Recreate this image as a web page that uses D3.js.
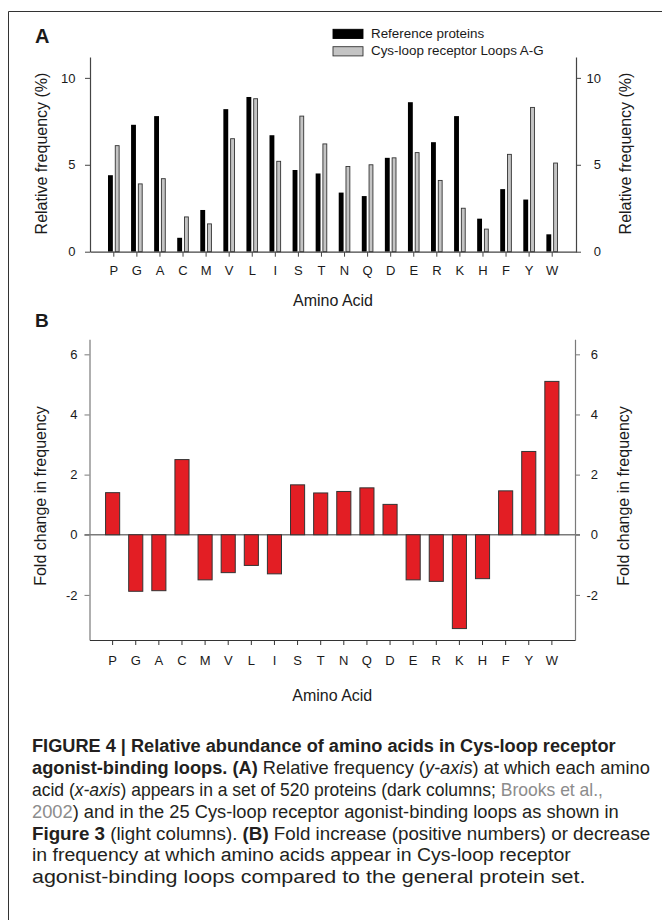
<!DOCTYPE html>
<html>
<head>
<meta charset="utf-8">
<script src="https://cdn.jsdelivr.net/npm/d3@7"></script>
<style>
  html, body { margin: 0; padding: 0; background: #fff; }
  svg { display: block; }
  text { font-family: "Liberation Sans", Arial, sans-serif; fill: #1a1a1a; }
</style>
</head>
<body>
<svg id="chart" width="662" height="920"></svg>
<script>
// ---------- data ----------
const aminoAcids = ['P','G','A','C','M','V','L','I','S','T','N','Q','D','E','R','K','H','F','Y','W'];
const referenceFreq = [4.4,7.3,7.8,0.8,2.4,8.2,8.9,6.7,4.7,4.5,3.4,3.2,5.4,8.6,6.3,7.8,1.9,3.6,3.0,1.0];
const loopFreq      = [6.1,3.9,4.2,2.0,1.6,6.5,8.8,5.2,7.8,6.2,4.9,5.0,5.4,5.7,4.1,2.5,1.3,5.6,8.3,5.1];
const foldChange    = [1.40,-1.88,-1.86,2.50,-1.50,-1.26,-1.02,-1.30,1.66,1.39,1.44,1.56,1.01,-1.50,-1.55,-3.12,-1.46,1.46,2.77,5.10];
const freqTicks = [0,5,10];
const foldTicks = [-2,0,2,4,6];
const seriesKeys = ['Reference proteins','Cys-loop receptor Loops A-G'];

const svg = d3.select('#chart');
const axisColor = '#444';
const plainFmt = d => String(d);

// frame
svg.append('line').attr('x1',8.5).attr('y1',11.5).attr('x2',662).attr('y2',11.5).attr('stroke','#333').attr('stroke-width',1);
svg.append('line').attr('x1',8.5).attr('y1',11.5).attr('x2',8.5).attr('y2',920).attr('stroke','#333').attr('stroke-width',1);

function styleAxis(g, color) {
  g.selectAll('path.domain').attr('stroke', color).attr('stroke-width', 1.2);
  g.selectAll('.tick line').attr('stroke', color).attr('stroke-width', 1);
  g.selectAll('.tick text').attr('fill', '#1a1a1a').style('font-size', '13px')
    .style('font-family', '"Liberation Sans", Arial, sans-serif');
}

// ---------- Panel A ----------
const aLeft = 90, aRight = 576, aTop = 57, aBottom = 251.7;
const xA = d3.scaleBand().domain(aminoAcids).range([aLeft, aRight]).paddingInner(0.496).paddingOuter(0.78);
const xA1 = d3.scaleBand().domain(seriesKeys).range([0, xA.bandwidth()]).paddingInner(0.28);
const yA = d3.scaleLinear().domain([0, 11.2]).range([aBottom, aTop]);

const gA = svg.append('g');
const rows = aminoAcids.map((a,i) => ({a, vals:[referenceFreq[i], loopFreq[i]]}));
const grp = gA.selectAll('g.grp').data(rows).join('g').attr('transform', d => `translate(${xA(d.a)},0)`);
grp.selectAll('rect').data(d => d.vals.map((v,k) => ({k: seriesKeys[k], v})))
  .join('rect')
  .attr('x', d => xA1(d.k) + (d.k === seriesKeys[0] ? 0 : 0.5))
  .attr('width', d => xA1.bandwidth() - (d.k === seriesKeys[0] ? 0 : 1))
  .attr('y', d => yA(d.v))
  .attr('height', d => aBottom - yA(d.v))
  .attr('fill', d => d.k === seriesKeys[0] ? '#000' : '#c4c4c4')
  .attr('stroke', d => d.k === seriesKeys[0] ? 'none' : '#333')
  .attr('stroke-width', 0.9);

const axLA = gA.append('g').attr('transform', `translate(${aLeft},0)`)
  .call(d3.axisLeft(yA).tickValues(freqTicks).tickFormat(plainFmt).tickSize(5).tickSizeOuter(0).tickPadding(9.5));
styleAxis(axLA, axisColor);
const axRA = gA.append('g').attr('transform', `translate(${aRight},0)`)
  .call(d3.axisRight(yA).tickValues(freqTicks).tickFormat(plainFmt).tickSize(5).tickSizeOuter(0).tickPadding(7));
styleAxis(axRA, axisColor);
axRA.selectAll('.tick text').attr('text-anchor','end').attr('x', 25);
const axBA = gA.append('g').attr('transform', `translate(0,${aBottom})`)
  .call(d3.axisBottom(xA).tickSize(5).tickSizeOuter(0).tickPadding(9.5));
styleAxis(axBA, axisColor);

// panel A texts
svg.append('text').attr('x', 35).attr('y', 43).style('font-size','20px').style('font-weight','bold').text('A');
svg.append('text').attr('transform','translate(47,153.5) rotate(-90)').attr('text-anchor','middle').style('font-size','16px').text('Relative frequency (%)');
svg.append('text').attr('transform','translate(631,153.5) rotate(-90)').attr('text-anchor','middle').style('font-size','16px').text('Relative frequency (%)');
svg.append('text').attr('x', (aLeft+aRight)/2).attr('y', 305.5).attr('text-anchor','middle').style('font-size','16px').text('Amino Acid');

// legend
const leg = svg.append('g');
seriesKeys.forEach((k,i) => {
  const y0 = [29.3, 46.7][i];
  leg.append('rect').attr('x', 333).attr('y', y0).attr('width', 30).attr('height', 9.2)
    .attr('fill', i === 0 ? '#000' : '#c4c4c4').attr('stroke', i === 0 ? '#000' : '#333').attr('stroke-width', 0.9);
  leg.append('text').attr('x', 371).attr('y', [37.5, 55.2][i]).style('font-size','13.4px').text(k);
});

// ---------- Panel B ----------
const bLeft = 89.5, bRight = 575, bTop = 339.3, bBottom = 640;
const xB = d3.scaleBand().domain(aminoAcids).range([bLeft, bRight]).paddingInner(0.39).paddingOuter(0.695);
const yB = d3.scaleLinear().domain([-3.5, 6.5]).range([bBottom, bTop]);
const gB = svg.append('g');
const bColor = '#7a7a7a';

// zero line
gB.append('line').attr('x1', bLeft - 5).attr('x2', bRight + 5).attr('y1', yB(0)).attr('y2', yB(0))
  .attr('stroke', bColor).attr('stroke-width', 1.3);

gB.selectAll('rect').data(aminoAcids.map((a,i) => ({a, v: foldChange[i]})))
  .join('rect')
  .attr('x', d => xB(d.a))
  .attr('width', xB.bandwidth())
  .attr('y', d => yB(Math.max(0, d.v)))
  .attr('height', d => Math.abs(yB(d.v) - yB(0)))
  .attr('fill', '#e31e24')
  .attr('stroke', '#333')
  .attr('stroke-width', 1);

const axLB = gB.append('g').attr('transform', `translate(${bLeft},0)`)
  .call(d3.axisLeft(yB).tickValues(foldTicks).tickFormat(plainFmt).tickSize(5).tickSizeOuter(0).tickPadding(7));
styleAxis(axLB, bColor);
const axRB = gB.append('g').attr('transform', `translate(${bRight},0)`)
  .call(d3.axisRight(yB).tickValues(foldTicks).tickFormat(plainFmt).tickSize(5).tickSizeOuter(0).tickPadding(7));
styleAxis(axRB, bColor);
axRB.selectAll('.tick text').attr('text-anchor','end').attr('x', 23);
const axBB = gB.append('g').attr('transform', `translate(0,${bBottom})`)
  .call(d3.axisBottom(xB).tickSize(5).tickSizeOuter(0).tickPadding(10.5));
styleAxis(axBB, '#333');

svg.append('text').attr('x', 35).attr('y', 327).style('font-size','19px').style('font-weight','bold').text('B');
svg.append('text').attr('transform','translate(46,496) rotate(-90)').attr('text-anchor','middle').style('font-size','16px').text('Fold change in frequency');
svg.append('text').attr('transform','translate(629,496) rotate(-90)').attr('text-anchor','middle').style('font-size','16px').text('Fold change in frequency');
svg.append('text').attr('x', (bLeft+bRight)/2).attr('y', 700.5).attr('text-anchor','middle').style('font-size','16px').text('Amino Acid');

// ---------- caption ----------
const captionLines = [
  [['b','FIGURE 4 | Relative abundance of amino acids in Cys-loop receptor']],
  [['b','agonist-binding loops. (A)'],['n',' Relative frequency ('],['i','y-axis'],['n',') at which each amino']],
  [['n','acid ('],['i','x-axis'],['n',') appears in a set of 520 proteins (dark columns; '],['g','Brooks et al.,']],
  [['g','2002'],['n',') and in the 25 Cys-loop receptor agonist-binding loops as shown in']],
  [['b','Figure 3'],['n',' (light columns). '],['b','(B)'],['n',' Fold increase (positive numbers) or decrease']],
  [['n','in frequency at which amino acids appear in Cys-loop receptor']],
  [['n','agonist-binding loops compared to the general protein set.']]
];
const captionEnds = [616, 650, 603, 619, 651, 571, 586];
const capX = 32;
const capBase = [752, 773.9, 795.8, 817.7, 839.6, 861.5, 883.4];
captionLines.forEach((parts, i) => {
  const t = svg.append('text').attr('x', capX).attr('y', capBase[i]).style('font-size','18px').attr('fill','#231f20');
  parts.forEach(([s, str]) => {
    const ts = t.append('tspan').text(str).attr('fill', s === 'g' ? '#8c8c8c' : '#231f20');
    if (s === 'b') ts.style('font-weight','bold');
    if (s === 'i') ts.style('font-style','italic');
  });
  const w = t.node().getComputedTextLength();
  const sx = (captionEnds[i] - capX) / w;
  t.attr('transform', `translate(${capX},0) scale(${sx},1) translate(${-capX},0)`);
});
</script>
</body>
</html>
